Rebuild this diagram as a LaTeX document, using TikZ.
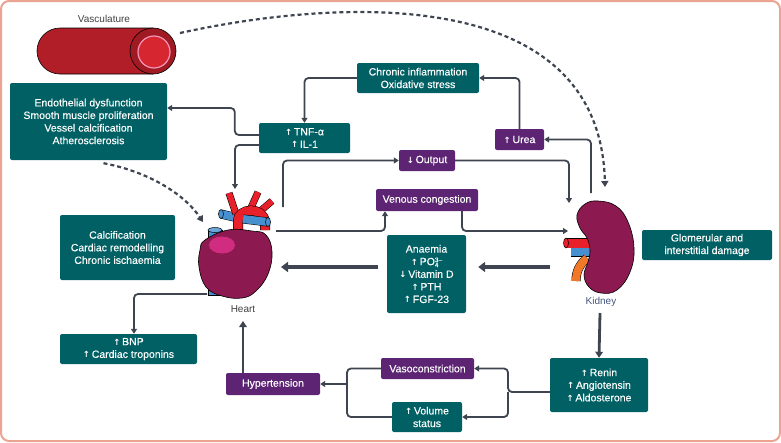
\documentclass[tikz,border=0pt]{standalone}
\usepackage{fontspec}
\setmainfont{Liberation Sans}
\newfontfamily\boxface{Liberation Sans}[FakeBold=0.25]
\newfontfamily\symfont{DejaVu Sans}
\usetikzlibrary{arrows.meta}
\definecolor{boxteal}{RGB}{0,96,100}
\definecolor{boxpurple}{RGB}{92,36,115}
\definecolor{linkgray}{RGB}{62,68,80}
\definecolor{framecol}{RGB}{236,164,146}
\definecolor{heartbody}{RGB}{140,26,80}
\definecolor{hearthi}{RGB}{208,44,128}
\definecolor{vesselred}{RGB}{232,32,42}
\definecolor{veinblue}{RGB}{70,144,208}
\definecolor{ureterorange}{RGB}{240,120,40}
\definecolor{tubedark}{RGB}{178,30,40}
\definecolor{tubeend}{RGB}{160,26,36}
\definecolor{tubeinner}{RGB}{214,38,48}
\definecolor{tubering}{RGB}{244,150,184}
\definecolor{labelgray}{RGB}{64,64,64}
\definecolor{kidneyblue}{RGB}{70,85,125}
\newcommand\incr{{\symfont\bfseries\fontsize{8.5}{8.5}\selectfont ↑}\,}
\newcommand\decr{{\symfont\bfseries\fontsize{8.5}{8.5}\selectfont ↓}\,}
\newcommand\boxfont{\boxface\fontsize{10.5}{12.6}\selectfont}
\newcommand\tinyidx{\fontsize{6.5}{6.5}\selectfont}
\begin{document}
\begin{tikzpicture}[x=1pt, y=-1pt,
    tealbox/.style={fill=boxteal, text=white, rounded corners=2pt, align=center, inner sep=0pt, font=\boxfont},
    purplebox/.style={tealbox, fill=boxpurple},
    link/.style={draw=linkgray, line width=1.8pt, rounded corners=4pt, -{Triangle[length=5pt,width=6pt]}},
    midlink/.style={link, line width=2.8pt, -{Triangle[length=6pt,width=7.5pt]}},
    heavy/.style={link, line width=4pt, -{Triangle[length=7pt,width=10pt]}},
    cue/.style={draw=linkgray, line width=2.2pt, dash pattern=on 4pt off 3pt, -{Triangle[length=6pt,width=7pt]}},
    tube/.style={line width=0.5pt, double distance=#1}]
  \useasboundingbox (0,0) rectangle (781,442);
  \draw[framecol, line width=2pt, rounded corners=8pt] (1,1) rectangle (780,441);

  % vasculature
  \node[text=labelgray, font=\fontsize{10}{12}\selectfont] (vaslbl) at (104,19) {Vasculature};
  \draw[fill=tubedark, line width=0.6pt] (153,28) -- (60,28) arc[start angle=270, end angle=90, radius=23] -- (153,74) -- cycle;
  \draw[fill=tubeend, line width=0.6pt] (153,51) circle[radius=23];
  \draw[fill=tubeinner, draw=tubering, line width=1.2pt] (154,52) circle[radius=16];
  \coordinate (vTail) at (180,33);

  % heart
  \draw[fill=veinblue, line width=0.5pt] (208,230) rectangle (222,295);
  \draw[fill=veinblue!80!white, line width=0.5pt] (215,230) ellipse[x radius=7, y radius=2.5];
  \draw[tube=8pt, double=veinblue] (221,214) -- (238,218);
  \draw[fill=veinblue, line width=0.5pt] (221,214) ellipse[x radius=2.5, y radius=4.5];
  \draw[tube=6pt, double=vesselred] (236,214) -- (229,193);
  \draw[tube=6pt, double=vesselred] (250,210) -- (258,192);
  \draw[tube=6pt, double=vesselred] (258,213) -- (272,201);
  \draw[tube=9pt, double=vesselred] (238,236) -- (238,221) .. controls (238,208) and (263,206) .. (265,222) -- (265,230);
  \draw[tube=8pt, double=veinblue] (243,219) -- (268,222);
  \draw[fill=veinblue, line width=0.5pt] (268,222) ellipse[x radius=2.5, y radius=4.5];
  \draw[fill=heartbody, line width=0.6pt] plot[smooth cycle, tension=0.7] coordinates
    {(205,240) (228,230) (252,231) (266,235) (272,252) (268,274) (256,291) (242,298) (222,296) (206,287) (199,267) (200,250)};
  \fill[hearthi] (222,245) ellipse[x radius=13, y radius=8.5];
  \node[text=labelgray, font=\fontsize{10}{12}\selectfont] (heartlbl) at (243,309) {Heart};
  \coordinate (hTNF) at (235,189);
  \coordinate (hTop) at (283,207);
  \coordinate (hRight) at (276,231);
  \coordinate (hLeft) at (281,267);
  \coordinate (hLow) at (207,294);
  \coordinate (hDash) at (203,222);

  % kidney
  \draw[tube=9pt, double=vesselred] (566,243) -- (592,243);
  \draw[fill=vesselred, line width=0.5pt] (566,243) ellipse[x radius=2.5, y radius=5];
  \draw[tube=8pt, double=veinblue] (571,252) -- (592,252);
  \draw[tube=8pt, double=ureterorange] (587,258) .. controls (579,265) and (576,272) .. (576,281);
  \draw[fill=heartbody, line width=0.6pt] plot[smooth cycle, tension=0.7] coordinates
    {(598,201) (616,206) (628,222) (634,248) (630,272) (617,290) (601,293) (589,287) (584,275) (588,262) (590,250) (587,238) (580,228) (577,215) (585,204)};
  \node[text=kidneyblue, font=\fontsize{10}{12}\selectfont] (kidneylbl) at (601,302) {Kidney};
  \coordinate (kTop) at (591,193);
  \coordinate (kIn1) at (569,203);
  \coordinate (kIn2) at (568,231);
  \coordinate (kLeft) at (550,267);
  \coordinate (kBottom) at (600,313);
  \coordinate (kDash) at (605,187);

  % boxes
  \node[tealbox, minimum width=157pt, minimum height=77pt] (endo) at (88.5,121.5)
    {Endothelial dysfunction\\Smooth muscle proliferation\\Vessel calcification\\Atherosclerosis};
  \node[tealbox, minimum width=91pt, minimum height=30pt] (tnf) at (304.5,138) {\incr TNF-α\\\incr IL-1};
  \node[tealbox, minimum width=122pt, minimum height=30pt] (chronic) at (418,78) {Chronic inflammation\\Oxidative stress};
  \node[purplebox, minimum width=49pt, minimum height=21pt] (urea) at (519.5,139.5) {\incr Urea};
  \node[purplebox, minimum width=56pt, minimum height=21pt] (output) at (427,160.5) {\decr Output};
  \node[purplebox, minimum width=102pt, minimum height=22pt] (venous) at (427,200) {Venous congestion};
  \node[tealbox, minimum width=79pt, minimum height=78pt] (anaemia) at (426.5,274)
    {Anaemia\\\incr PO\rlap{\raisebox{-2pt}{\tinyidx 4}}\raisebox{3pt}{\tinyidx 3–}\\\decr Vitamin D\\\incr PTH\\\incr FGF-23};
  \node[tealbox, minimum width=130pt, minimum height=30pt] (glom) at (707,245) {Glomerular and\\interstitial damage};
  \node[tealbox, minimum width=115pt, minimum height=65pt] (calc) at (117.5,247.5)
    {Calcification\\Cardiac remodelling\\Chronic ischaemia};
  \node[tealbox, minimum width=137pt, minimum height=30pt] (bnp) at (128.5,349) {\incr BNP\\\incr Cardiac troponins};
  \node[tealbox, minimum width=98pt, minimum height=54pt] (renin) at (599,385) {\incr Renin\\\incr Angiotensin\\\incr Aldosterone};
  \node[purplebox, minimum width=93pt, minimum height=21pt] (vaso) at (427.5,368.5) {Vasoconstriction};
  \node[tealbox, minimum width=70pt, minimum height=30pt] (volume) at (427,417) {\incr Volume\\status};
  \node[purplebox, minimum width=94pt, minimum height=22pt] (hyper) at (273,384) {Hypertension};
  \coordinate (rsplit) at (508,392);
  \coordinate (lsplit) at (347,384);

  % connectors
  \draw[cue] (vTail) .. controls (330,0) and (600,-20) .. (kDash);
  \draw[cue] ([xshift=15pt,yshift=-3pt]endo.south) .. controls (150,172) and (185,195) .. (hDash);
  \draw[link] (chronic.west) -| (tnf.north);
  \draw[link] (tnf.west |- 0,135) -- ++(-24,0) |- (endo.east |- 0,108);
  \draw[link] (tnf.west |- 0,145) -| (hTNF);
  \draw[link] (urea.north) |- (chronic.east);
  \draw[link] (kTop) |- (urea.east);
  \draw[link] (hTop) |- (output.west);
  \draw[link] (output.east) -| (kIn1);
  \draw[link] (hRight) -| (venous.south -| 385,0);
  \draw[link] (venous.south -| 462,0) |- (kIn2);
  \draw[heavy] (kLeft) -- ([xshift=12pt]anaemia.east |- kLeft);
  \draw[heavy] ([xshift=-9pt]anaemia.west |- hLeft) -- (hLeft);
  \draw[midlink] (kBottom) -- (renin.north);
  \draw[link] (renin.west |- rsplit) -- (rsplit) |- (vaso.east);
  \draw[link] (rsplit) |- (volume.east);
  \draw[link, -] (vaso.west) -| (lsplit) |- (volume.west);
  \draw[link] (lsplit) -- (hyper.east);
  \draw[midlink] (hyper.north -| heartlbl) -- ([yshift=-5pt]heartlbl.south);
  \draw[link] (hLow) -| (bnp.north -| 134,0);
\end{tikzpicture}
\end{document}
